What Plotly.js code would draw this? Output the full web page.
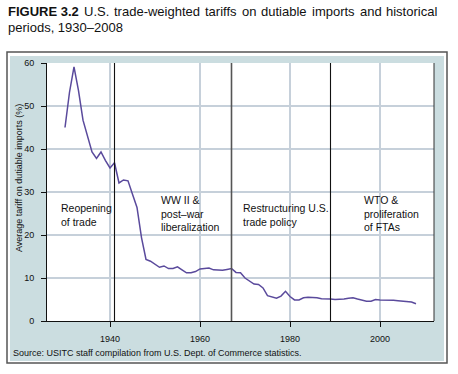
<!DOCTYPE html>
<html><head><meta charset="utf-8">
<script src="https://cdn.plot.ly/plotly-3.0.1.min.js"></script>
<style>html,body{margin:0;padding:0;background:#fff}#chart{width:458px;height:374px}</style>
</head><body><div id="chart"></div>
<script>
const years = [1930,1931,1932,1933,1934,1935,1936,1937,1938,1939,
  1940,1941,1942,1943,1944,1945,1946,1947,1948,1949,
  1950,1951,1952,1953,1954,1955,1956,1957,1958,1959,
  1960,1961,1962,1963,1964,1965,1966,1967,1968,1969,
  1970,1971,1972,1973,1974,1975,1976,1977,1978,1979,
  1980,1981,1982,1983,1984,1985,1986,1987,1988,1989,
  1990,1991,1992,1993,1994,1995,1996,1997,1998,1999,
  2000,2001,2002,2003,2004,2005,2006,2007,2008];
const tariff = [45.0,53.2,59.1,53.6,46.7,42.9,39.3,37.8,39.3,37.3,
  35.6,36.8,32.1,32.8,32.6,29.5,26.4,19.4,14.3,13.9,
  13.2,12.5,12.8,12.2,12.2,12.6,11.9,11.2,11.2,11.5,
  12.1,12.2,12.3,11.9,11.9,11.8,12.0,12.2,11.3,11.2,
  10.0,9.2,8.6,8.5,7.7,5.9,5.6,5.3,5.8,6.9,
  5.7,4.9,4.9,5.4,5.5,5.5,5.4,5.2,5.2,5.1,
  5.0,5.0,5.1,5.3,5.4,5.1,4.8,4.6,4.6,5.0,
  4.9,4.9,4.9,4.8,4.7,4.6,4.5,4.4,4.0];
const periodBreaks = [1941, 1967, 1989];
const periodLabels = ["Reopening<br>of trade", "WW II &<br>post–war<br>liberalization",
  "Restructuring U.S.<br>trade policy", "WTO &<br>proliferation<br>of FTAs"];
const xTicks = [1940, 1960, 1980, 2000];
const yTicks = [0, 10, 20, 30, 40, 50, 60];
const titleBold = "FIGURE 3.2";
const titleWords = ["U.S.", "trade-weighted", "tariffs", "on", "dutiable", "imports", "and", "historical"];
const titleLine2 = "periods, 1930–2008";
const yTitle = "Average tariff on dutiable imports (%)";
const sourceNote = "Source: USITC staff compilation from U.S. Dept. of Commerce statistics.";

const FONT = "Liberation Sans, Arial, Helvetica, sans-serif";
const L = 47, R = 434, T = 63, B = 321;
const px = v => (v - L) / (R - L);
const py = v => (B - v) / (B - T);

// justify title line 1 across 7..437
const cv = document.createElement('canvas').getContext('2d');
cv.font = "bold 13px 'Liberation Sans'";
const wBold = cv.measureText(titleBold).width;
cv.font = "13px 'Liberation Sans'";
const wWords = titleWords.map(w => cv.measureText(w).width);
const lineL = 7.3, lineR = 436.7;
const gap = (lineR - lineL - wBold - wWords.reduce((a, b) => a + b, 0)) / titleWords.length;

const annotations = [];
const baseAnn = {xref: 'paper', yref: 'paper', showarrow: false, borderpad: 0, align: 'left'};
annotations.push(Object.assign({}, baseAnn, {text: '<b>' + titleBold + '</b>', x: px(lineL), y: py(20), xanchor: 'left', yanchor: 'bottom',
  font: {family: FONT, size: 13, color: '#111'}}));
let cx = lineL + wBold + gap;
titleWords.forEach((w, i) => {
  annotations.push(Object.assign({}, baseAnn, {text: w, x: px(cx), y: py(20), xanchor: 'left', yanchor: 'bottom',
    font: {family: FONT, size: 13, color: '#111'}}));
  cx += wWords[i] + gap;
});
annotations.push(Object.assign({}, baseAnn, {text: titleLine2, x: px(lineL), y: py(35.5), xanchor: 'left', yanchor: 'bottom',
  font: {family: FONT, size: 13, color: '#111'}}));

const labelPos = [[60, 211], [160, 203], [241.7, 211], [362.7, 203]];
periodLabels.forEach((t, i) => {
  annotations.push(Object.assign({}, baseAnn, {text: t, x: px(labelPos[i][0]), y: py(labelPos[i][1] - 10),
    xanchor: 'left', yanchor: 'top', font: {family: FONT, size: 10.5, color: '#111'}}));
});
annotations.push(Object.assign({}, baseAnn, {text: yTitle, x: px(19), y: py(178), xanchor: 'center', yanchor: 'middle',
  textangle: -90, font: {family: FONT, size: 9, color: '#111'}}));
annotations.push(Object.assign({}, baseAnn, {text: sourceNote, x: px(12), y: py(359), xanchor: 'left', yanchor: 'bottom',
  font: {family: FONT, size: 9, color: '#111'}}));

const shapes = [
  {type: 'rect', xref: 'paper', yref: 'paper', layer: 'below', x0: px(10), x1: px(444), y0: py(361), y1: py(56),
    fillcolor: '#cbdde0', line: {width: 0}},
  {type: 'rect', xref: 'paper', yref: 'paper', layer: 'below', x0: 0, x1: 1, y0: 0, y1: 1,
    fillcolor: '#ffffff', line: {width: 0}},
  {type: 'rect', xref: 'paper', yref: 'paper', layer: 'below', x0: px(7), x1: px(447), y0: py(363), y1: py(52),
    fillcolor: 'rgba(0,0,0,0)', line: {color: '#555', width: 1.5}},
  {type: 'line', xref: 'paper', yref: 'paper', x0: 1, x1: 1, y0: 0, y1: 1, line: {color: '#333', width: 1}}
];
periodBreaks.forEach((yr, i) => {
  shapes.push({type: 'line', xref: 'x', yref: 'paper', x0: yr, x1: yr, y0: 0, y1: 1,
    line: {color: i === 1 ? '#555' : '#111', width: i === 1 ? 1.6 : 1.1}});
});

const data = [{x: years, y: tariff, type: 'scatter', mode: 'lines',
  line: {color: '#5a4a9c', width: 1.5}, hoverinfo: 'skip'}];

const layout = {
  width: 458, height: 374,
  margin: {l: L, r: 458 - R, t: T, b: 374 - B, pad: 0},
  paper_bgcolor: '#ffffff', plot_bgcolor: 'rgba(0,0,0,0)',
  showlegend: false,
  font: {family: FONT, size: 9, color: '#111'},
  xaxis: {range: [1926, 2012], tickvals: xTicks, ticktext: xTicks.map(String), showgrid: true,
    gridcolor: '#c6d0da', gridwidth: 1.5, zeroline: false, showline: true, linecolor: '#111', linewidth: 1,
    ticks: 'outside', ticklen: 5, tickcolor: '#111', ticklabelstandoff: 4,
    tickfont: {family: FONT, size: 9, color: '#111'}, fixedrange: true},
  yaxis: {range: [0, 60], tickvals: yTicks, ticktext: yTicks.map(String), showgrid: true,
    gridcolor: '#c6d0da', gridwidth: 1.5, zeroline: false, showline: true, linecolor: '#111', linewidth: 1,
    ticks: 'outside', ticklen: 5, tickcolor: '#111', ticklabelstandoff: 5,
    tickfont: {family: FONT, size: 9, color: '#111'}, fixedrange: true},
  shapes: shapes,
  annotations: annotations
};
Plotly.newPlot('chart', data, layout, {staticPlot: true, displayModeBar: false});
</script></body></html>
